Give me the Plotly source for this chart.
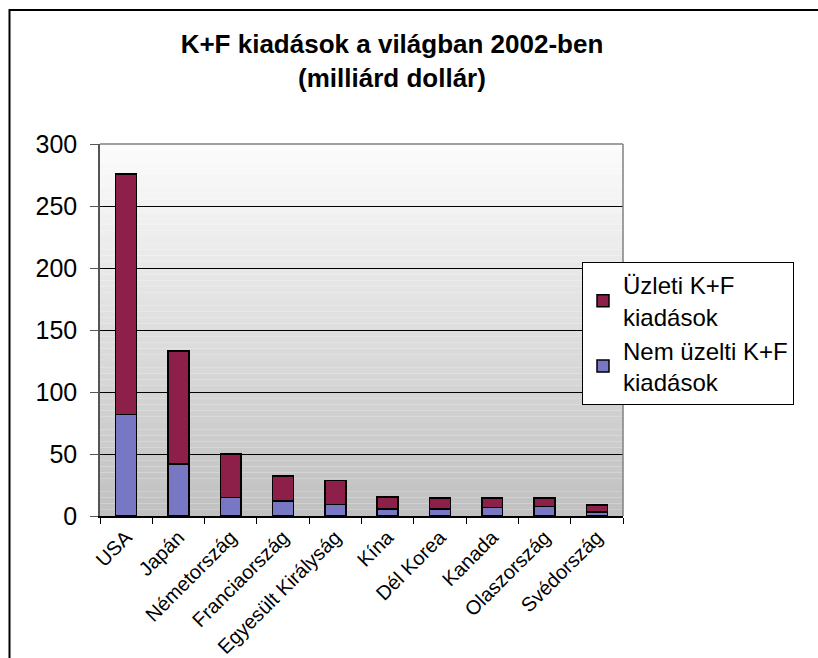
import plotly.graph_objects as go

# K+F kiadások 2002 (milliárd dollár)
countries = ['USA', 'Japán', 'Németország', 'Franciaország', 'Egyesült Királyság',
             'Kína', 'Dél Korea', 'Kanada', 'Olaszország', 'Svédország']
nem_uzleti = [82, 42, 15, 12, 9.4, 5.6, 5.6, 6.8, 7.8, 3.2]
uzleti = [194, 91, 35, 20.4, 19.4, 9.7, 8.9, 7.7, 6.7, 5.7]

FONT = "Liberation Sans, Arial, sans-serif"
W, H = 818, 658
L, R, T, B = 100, 195, 144, 142

fig = go.Figure()

fig.add_trace(go.Bar(
    x=countries, y=nem_uzleti, name='Nem üzelti K+F<br>kiadások',
    marker=dict(color='#7777C4', line=dict(color='black', width=1.5)),
))
fig.add_trace(go.Bar(
    x=countries, y=uzleti, name='Üzleti K+F<br>kiadások',
    marker=dict(color='#8C2048', line=dict(color='black', width=1.5)),
))

# gradient background of the plot area (white -> grey)
shapes = []
n = 60
for i in range(n):
    f = i / n
    c = int(round(0xC0 + (0xFC - 0xC0) * (f + 0.5 / n)))
    shapes.append(dict(
        type='rect', xref='x domain', yref='y domain',
        x0=0, x1=1, y0=f, y1=(i + 1) / n,
        fillcolor=f'rgb({c},{c},{c})', line=dict(width=0), layer='below',
    ))
# grey top/right frame of plot area
shapes.append(dict(type='line', xref='x domain', yref='y domain',
                   x0=0, x1=1, y0=1, y1=1, line=dict(color='#808080', width=1.5)))
shapes.append(dict(type='line', xref='x domain', yref='y domain',
                   x0=1, x1=1, y0=0, y1=1, line=dict(color='#808080', width=1.5)))
# outer chart border (cropped at right and bottom)
pw, ph = W - L - R, H - T - B
shapes.append(dict(type='rect', xref='paper', yref='paper',
                   x0=(9.5 - L) / pw, x1=(W + 20 - L) / pw,
                   y0=(H - B - (H + 20)) / ph, y1=(H - B - 10) / ph,
                   line=dict(color='black', width=2), fillcolor='rgba(0,0,0,0)'))

fig.update_layout(
    width=W, height=H,
    margin=dict(l=L, r=R, t=T, b=B, autoexpand=False),
    paper_bgcolor='white',
    plot_bgcolor='rgba(0,0,0,0)',
    barmode='stack',
    bargap=0.6,
    font=dict(family=FONT, color='black'),
    title=dict(
        text='<b>K+F kiadások a világban 2002-ben<br>(milliárd dollár)</b>',
        x=392 / W, xanchor='center', xref='container',
        y=1 - 53 / H, yanchor='top', yref='container',
        font=dict(family=FONT, size=26, color='black'),
    ),
    xaxis=dict(
        tickangle=-45, tickfont=dict(size=20), tickson='boundaries',
        ticks='outside', ticklen=6, tickcolor='black',
        showline=True, linecolor='black', linewidth=1.5,
        showgrid=False,
    ),
    yaxis=dict(
        range=[0, 300], dtick=50, tickfont=dict(size=25),
        ticks='outside', ticklen=8, tickcolor='#555555',
        ticklabelstandoff=8,
        showline=True, linecolor='#555555', linewidth=1.5,
        showgrid=True, gridcolor='black', gridwidth=1,
        zeroline=False,
    ),
    legend=dict(
        x=(582 - L) / pw, xanchor='left', xref='paper',
        y=(H - B - 262) / ph, yanchor='top',
        bgcolor='white', bordercolor='black', borderwidth=1,
        font=dict(size=24, family=FONT), traceorder='reversed',
    ),
    shapes=shapes,
)

fig.write_html("out.html", config={'displayModeBar': False},
               post_script="document.body.style.margin='0';")
